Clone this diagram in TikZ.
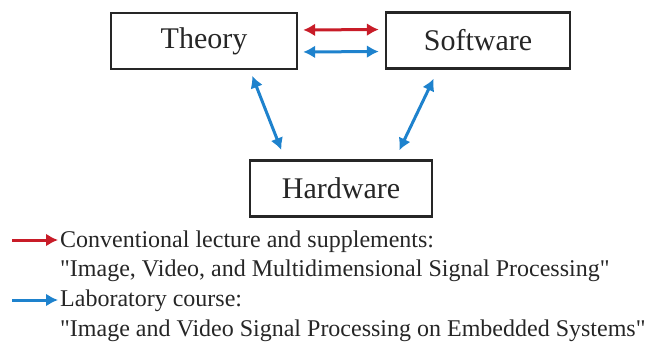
\documentclass[tikz,border=0pt]{standalone}
\usepackage{fontspec}
\setmainfont{Liberation Serif}
\usetikzlibrary{arrows.meta}
\definecolor{lecturered}{RGB}{200,28,40}
\definecolor{labblue}{RGB}{30,130,205}
% straight double quote, taken as a glyph so no TeX quote mapping applies
\newcommand{\dq}{\XeTeXglyph\XeTeXglyphindex "quotedbl"\relax}
\tikzset{
  topic/.style={draw=black!85, line width=2.4pt, minimum width=#1, minimum height=56pt,
    inner sep=0pt, font=\fontsize{30}{32}\selectfont, text=black!85},
  link/.style={line width=3pt, {Latex[length=12pt,width=13pt]}-{Latex[length=12pt,width=13pt]}},
  legendtip/.style={line width=3pt, -{Latex[length=12pt,width=13pt]}},
  legendtext/.style={anchor=west, inner sep=0pt, font=\fontsize{24}{26}\selectfont, text=black!85},
}
\begin{document}
\begin{tikzpicture}[x=1pt,y=-1pt]
  \useasboundingbox (0,0) rectangle (670,361);
  % the three topics
  \node[topic=186pt] (theory)   at (204,41)    {Theory};
  \node[topic=184pt] (software) at (478,40.5)  {Software};
  \node[topic=182pt] (hardware) at (341,188.5) {Hardware};
  % links between topics
  \draw[link, lecturered, shorten <=5pt, shorten >=6pt]
    ([yshift=11pt]theory.east) -- ([yshift=11pt]software.west);
  \draw[link, labblue, shorten <=5pt, shorten >=6pt]
    ([yshift=-11pt]theory.east) -- ([yshift=-11pt]software.west);
  \draw[link, labblue, shorten <=6pt, shorten >=10pt]
    ([xshift=46pt]theory.south) -- ([xshift=-56pt]hardware.north);
  \draw[link, labblue, shorten <=10pt, shorten >=10pt]
    ([xshift=-40pt]software.south) -- ([xshift=54pt]hardware.north);
  % legend
  \node[legendtext] (lecture) at (60,242) {Conventional lecture and supplements:};
  \node[legendtext] (lecturename) at (60,271) {\dq Image, Video, and Multidimensional Signal Processing\dq};
  \node[legendtext] (lab) at (60,301) {Laboratory course:};
  \node[legendtext] (labname) at (60,331) {\dq Image and Video Signal Processing on Embedded Systems\dq};
  \coordinate (redstart) at (12,240);
  \coordinate (bluestart) at (12,300);
  \draw[legendtip, lecturered, shorten >=2pt] (redstart) -- (redstart -| lecture.west);
  \draw[legendtip, labblue, shorten >=2pt] (bluestart) -- (bluestart -| lab.west);
\end{tikzpicture}
\end{document}
